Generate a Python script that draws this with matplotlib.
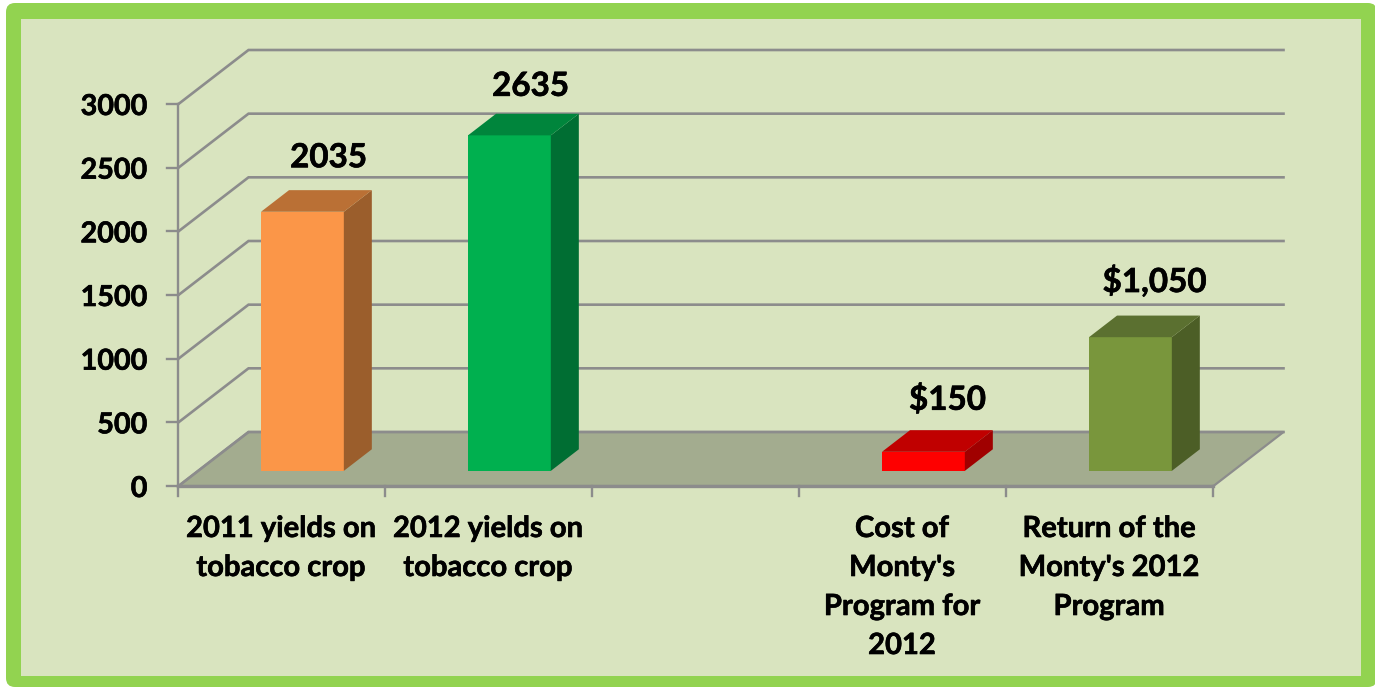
import matplotlib
matplotlib.use("Agg")
import matplotlib.pyplot as plt
import matplotlib.patheffects as pe
from matplotlib.patches import Polygon, FancyBboxPatch, Rectangle

categories = ["2011 yields on\ntobacco crop", "2012 yields on\ntobacco crop", "",
              "Cost of\nMonty's\nProgram for\n2012", "Return of the\nMonty's 2012\nProgram"]
values = [2035, 2635, None, 150, 1050]
value_labels = ["2035", "2635", "", "$150", "$1,050"]
y_ticks = [0, 500, 1000, 1500, 2000, 2500, 3000]

front_colors = ["#fb9648", "#00b04f", None, "#fe0000", "#79963c"]
side_colors = ["#9b5e2c", "#006e33", None, "#a00000", "#4c5e26"]
top_colors = ["#ba7035", "#00853c", None, "#c00000", "#5b7030"]

plt.rcParams["font.family"] = ["Lato", "DejaVu Sans"]
plt.rcParams["font.weight"] = "bold"

fig = plt.figure(figsize=(13.75, 6.88), dpi=100, facecolor="white")
ax = fig.add_axes([0, 0, 1, 1])
ax.set_xlim(0, 1375)
ax.set_ylim(688, 0)
ax.axis("off")

# layout of the projected chart, in figure pixels
X0, Y0 = 178.5, 486.0
CAT_W = 207.0
PX_PER_UNIT = 382.0 / 3000
DX, DY = 70.0, -54.0
BAR_W = 0.4
BAR_D0, BAR_D1 = 0.28, 0.68
BAR_NUDGE = 0.004
GRID = "#8c8c8c"
FS_TICK = 20.7
FS_CAT = 21.0
FS_VAL = 23.9
HEAVY = [pe.withStroke(linewidth=0.45, foreground="black")]


def proj(cat, val, depth=0.0):
    return (X0 + cat * CAT_W + depth * DX, Y0 - val * PX_PER_UNIT + depth * DY)


# frame
ax.add_patch(FancyBboxPatch((6, 3), 1371, 684, boxstyle="round,pad=0,rounding_size=9",
                            fc="#92d350", ec="none", zorder=0))
ax.add_patch(Rectangle((21.5, 19), 1339.5, 657, fc="#d9e4bf", ec="none", zorder=0.1))

n = len(categories)
# floor
ax.add_patch(Polygon([proj(0, 0), proj(n, 0), proj(n, 0, 1), proj(0, 0, 1)], closed=True,
                     fc="#a3ac8f", ec=GRID, lw=1.6, zorder=1))
# gridlines
for t in y_ticks:
    pts = [proj(0, t), proj(0, t, 1), proj(n, t, 1)]
    ax.plot(*zip(*pts), color=GRID, lw=1.9, zorder=1.5, solid_joinstyle="miter")
    ax.plot([X0 - 11, X0], [proj(0, t)[1]] * 2, color=GRID, lw=1.7, zorder=1.5)
    ax.text(X0 - 31, proj(0, t)[1] + 3, str(t), ha="right", va="center",
            fontsize=FS_TICK, color="black", path_effects=HEAVY)
# axes
ax.plot(*zip(proj(0, 0), proj(0, y_ticks[-1])), color=GRID, lw=1.7, zorder=1.5)
ax.plot(*zip(proj(0, 0), proj(n, 0)), color=GRID, lw=2.4, zorder=1.6)
for i in range(n + 1):
    x = proj(i, 0)[0]
    ax.plot([x, x], [Y0, Y0 + 10], color=GRID, lw=1.7, zorder=1.5)

# bars
label_shift = [(26, -54), (21, -49), None, (24, -52), (24, -56)]
for i, v in enumerate(values):
    if v is None:
        continue
    c0 = i + 0.5 - BAR_W / 2 + BAR_NUDGE
    c1 = i + 0.5 + BAR_W / 2 + BAR_NUDGE
    a, b = proj(c0, 0, BAR_D0), proj(c1, 0, BAR_D0)
    c, d = proj(c1, v, BAR_D0), proj(c0, v, BAR_D0)
    e, f = proj(c1, v, BAR_D1), proj(c0, v, BAR_D1)
    g = proj(c1, 0, BAR_D1)
    ax.add_patch(Polygon([a, b, c, d], closed=True, fc=front_colors[i], ec="none", zorder=3))
    ax.add_patch(Polygon([b, g, e, c], closed=True, fc=side_colors[i], ec="none", zorder=3))
    ax.add_patch(Polygon([d, c, e, f], closed=True, fc=top_colors[i], ec="none", zorder=3))
    sx, sy = label_shift[i]
    ax.text((d[0] + c[0]) / 2 + sx, d[1] + sy, value_labels[i], ha="center", va="center",
            fontsize=FS_VAL, color="black", zorder=4, path_effects=HEAVY)

# category labels
for i, lab in enumerate(categories):
    for j, line in enumerate(lab.split("\n")):
        if line:
            ax.text(proj(i + 0.5, 0)[0] - 1, 529 + 39 * j, line, ha="center", va="center",
                    fontsize=FS_CAT, color="black", path_effects=HEAVY)

fig.savefig("out.png", dpi=100, facecolor="white")
